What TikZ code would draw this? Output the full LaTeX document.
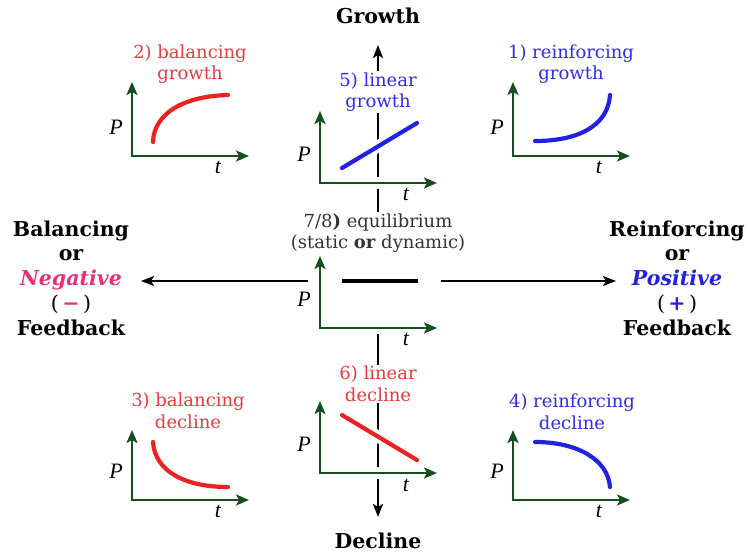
\documentclass[tikz,border=0pt]{standalone}
\usepackage{fontspec}
\setmainfont{DejaVu Serif}
\newfontfamily\pfont{Liberation Serif}
\usetikzlibrary{arrows.meta,calc}
\definecolor{axgreen}{RGB}{22,78,32}
\definecolor{cred}{RGB}{236,34,34}
\definecolor{tred}{RGB}{230,60,60}
\definecolor{cblue}{RGB}{34,34,226}
\definecolor{tblue}{RGB}{45,45,225}
\definecolor{cpink}{RGB}{232,48,118}
\tikzset{
  mainline/.style={draw=black,line width=2pt,-{Stealth[length=13pt,width=10pt,inset=3pt]}},
  vline/.style={draw=black,line width=2.4pt,-{Stealth[length=13pt,width=10pt,inset=3pt]}},
  axes/.style={draw=axgreen,line width=2.8pt,{Stealth[length=13pt,width=11pt,inset=3pt]}-{Stealth[length=13pt,width=11pt,inset=3pt]}},
  halo/.style={preaction={draw=white,line width=12pt,arrows=-}},
  curve/.style={line width=4.2pt,line cap=round},
  title/.style={font=\fontsize{18}{21.5}\selectfont,align=center,inner sep=1pt},
  side/.style={font=\fontsize{20.5}{24.7}\selectfont\bfseries,align=center,inner sep=0pt},
  big/.style={font=\fontsize{20.5}{22}\selectfont\bfseries,inner sep=0pt},
  plab/.style={font=\fontsize{22}{22}\selectfont\pfont\itshape,inner sep=0pt},
  eqbox/.style={fill=white,draw=none}
}
\begin{document}
\begin{tikzpicture}[x=1pt,y=-1pt]
\useasboundingbox[fill=white] (0,0) rectangle (748,554);
% main cross
\coordinate (hub) at (378,281);
\coordinate (vtop) at (378,45);
\coordinate (vbot) at (378,517);
\coordinate (hleft) at (141,281);
\coordinate (hright) at (616,281);
\draw[vline] (hub) -- (vtop);
\draw[vline] (hub) -- (vbot);
\draw[mainline] (hub) -- (hleft);
\draw[mainline] (hub) -- (hright);
% titles
\node[big] (growth) at (378,16) {Growth};
\node[big] (decline) at (378,541) {Decline};
\node[side] (neg) at (71,278) {Balancing\\or\\{\color{cpink}\itshape Negative}\\{\mdseries(\,}{\color{cpink}\textbf{−}}{\mdseries\,)}\\Feedback};
\node[side] (pos) at (677,278) {Reinforcing\\or\\{\color{cblue}\itshape Positive}\\{\mdseries(\,}{\color{cblue}\textbf{+}}{\mdseries\,)}\\Feedback};
% chart titles
\node[title,text=tred] (t2) at (190,64) {2) balancing\\growth};
\node[title,text=tblue] (t1) at (571,64) {1) reinforcing\\growth};
\node[title,text=tblue,fill=white] (t5) at (378,92) {5) linear\\growth};
\node[title,text=black!80,fill=white] (t78) at (378,233) {7/8\textbf{)} equilibrium\\(static \textbf{or} dynamic)};
\node[title,text=tred,fill=white] (t6) at (378,384) {6) linear\\decline};
\node[title,text=tred] (t3) at (188,411) {3) balancing\\decline};
\node[title,text=tblue] (t4) at (572,412) {4) reinforcing\\decline};
% chart origins
\coordinate (o2) at (132,156);
\coordinate (o1) at (513,156);
\coordinate (o5) at (320,183);
\coordinate (o7) at (320,328);
\coordinate (o6) at (320,473);
\coordinate (o3) at (132,500);
\coordinate (o4) at (513,500);
% center white area
\fill[eqbox] (308,252) rectangle (441,334);
% chart 2
\draw[axes] ($(o2)+(0,-74)$) -- (o2) -- ($(o2)+(117,0)$);
\node[plab] (p2) at ($(o2)+(-16,-29)$) {P};
\node[plab] (tt2) at ($(o2)+(86,11)$) {t};
\draw[curve,cred] (153,142) .. controls (154,112) and (186,96) .. (228,95);
% chart 1
\draw[axes] ($(o1)+(0,-74)$) -- (o1) -- ($(o1)+(117,0)$);
\node[plab] (p1) at ($(o1)+(-16,-29)$) {P};
\node[plab] (tt1) at ($(o1)+(86,11)$) {t};
\draw[curve,cblue] (535,141) .. controls (578,141) and (608,126) .. (610,95);
% chart 5
\draw[axes,halo] ($(o5)+(0,-72)$) -- (o5) -- ($(o5)+(117,0)$);
\node[plab] (p5) at ($(o5)+(-16,-29)$) {P};
\node[plab] (tt5) at ($(o5)+(86,11)$) {t};
\draw[curve,cblue,halo] (342,168) -- (417,123);
% chart 7/8
\draw[axes] ($(o7)+(0,-72)$) -- (o7) -- ($(o7)+(117,0)$);
\node[plab] (p7) at ($(o7)+(-16,-29)$) {P};
\node[plab] (tt7) at ($(o7)+(86,11)$) {t};
\draw[line width=4.2pt,black] (342,281) -- (418,281);
% chart 6
\draw[axes,halo] ($(o6)+(0,-72)$) -- (o6) -- ($(o6)+(117,0)$);
\node[plab] (p6) at ($(o6)+(-16,-29)$) {P};
\node[plab] (tt6) at ($(o6)+(86,12)$) {t};
\draw[curve,cred,halo] (342,415) -- (417,460);
% chart 3
\draw[axes] ($(o3)+(0,-70)$) -- (o3) -- ($(o3)+(117,0)$);
\node[plab] (p3) at ($(o3)+(-16,-29)$) {P};
\node[plab] (tt3) at ($(o3)+(86,11)$) {t};
\draw[curve,cred] (153,442) .. controls (155,472) and (186,487) .. (228,487);
% chart 4
\draw[axes] ($(o4)+(0,-70)$) -- (o4) -- ($(o4)+(117,0)$);
\node[plab] (p4) at ($(o4)+(-16,-29)$) {P};
\node[plab] (tt4) at ($(o4)+(86,11)$) {t};
\draw[curve,cblue] (535,442) .. controls (578,442) and (608,460) .. (610,487);
\end{tikzpicture}
\end{document}
